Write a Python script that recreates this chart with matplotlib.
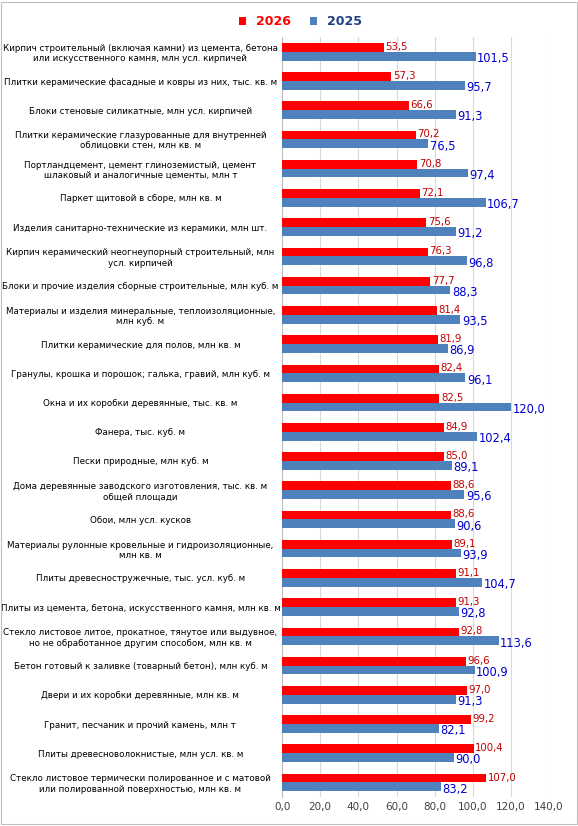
import matplotlib
matplotlib.use("Agg")
import matplotlib.pyplot as plt
import numpy as np

categories = [
"Кирпич строительный (включая камни) из цемента, бетона\nили искусственного камня, млн усл. кирпичей",
"Плитки керамические фасадные и ковры из них, тыс. кв. м",
"Блоки стеновые силикатные, млн усл. кирпичей",
"Плитки керамические глазурованные для внутренней\nоблицовки стен, млн кв. м",
"Портландцемент, цемент глиноземистый, цемент\nшлаковый и аналогичные цементы, млн т",
"Паркет щитовой в сборе, млн кв. м",
"Изделия санитарно-технические из керамики, млн шт.",
"Кирпич керамический неогнеупорный строительный, млн\nусл. кирпичей",
"Блоки и прочие изделия сборные строительные, млн куб. м",
"Материалы и изделия минеральные, теплоизоляционные,\nмлн куб. м",
"Плитки керамические для полов, млн кв. м",
"Гранулы, крошка и порошок; галька, гравий, млн куб. м",
"Окна и их коробки деревянные, тыс. кв. м",
"Фанера, тыс. куб. м",
"Пески природные, млн куб. м",
"Дома деревянные заводского изготовления, тыс. кв. м\nобщей площади",
"Обои, млн усл. кусков",
"Материалы рулонные кровельные и гидроизоляционные,\nмлн кв. м",
"Плиты древесностружечные, тыс. усл. куб. м",
"Плиты из цемента, бетона, искусственного камня, млн кв. м",
"Стекло листовое литое, прокатное, тянутое или выдувное,\nно не обработанное другим способом, млн кв. м",
"Бетон готовый к заливке (товарный бетон), млн куб. м",
"Двери и их коробки деревянные, млн кв. м",
"Гранит, песчаник и прочий камень, млн т",
"Плиты древесноволокнистые, млн усл. кв. м",
"Стекло листовое термически полированное и с матовой\nили полированной поверхностью, млн кв. м",
]
v2026 = [53.5,57.3,66.6,70.2,70.8,72.1,75.6,76.3,77.7,81.4,81.9,82.4,82.5,84.9,85.0,88.6,88.6,89.1,91.1,91.3,92.8,96.6,97.0,99.2,100.4,107.0]
v2025 = [101.5,95.7,91.3,76.5,97.4,106.7,91.2,96.8,88.3,93.5,86.9,96.1,120.0,102.4,89.1,95.6,90.6,93.9,104.7,92.8,113.6,100.9,91.3,82.1,90.0,83.2]

red = "#FF0000"; blue = "#4F81BD"
fig = plt.figure(figsize=(5.78, 8.26), dpi=100)
ax = fig.add_axes([0.488, 0.035, 0.462, 0.92])
n = len(categories)
y = np.arange(n)
h = 0.3
ax.barh(y - h/2, v2026, height=h, color=red, label="2026", zorder=3)
ax.barh(y + h/2, v2025, height=h, color=blue, label="2025", zorder=3)
for i in range(n):
    ax.text(v2026[i] + 0.8, y[i] - h/2 - 0.02, f"{v2026[i]:.1f}".replace(".", ","), color="#C00000", fontsize=7.3, va="center")
    ax.text(v2025[i] + 0.8, y[i] + h/2 + 0.08, f"{v2025[i]:.1f}".replace(".", ","), color="#0000CC", fontsize=8.3, va="center")
ax.set_ylim(n - 0.5, -0.5)
ax.set_xlim(0, 140)
ax.set_xticks(np.arange(0, 141, 20))
ax.set_xticklabels([f"{t:.1f}".replace(".", ",") for t in np.arange(0, 141, 20)], fontsize=7.5, color="#404040")
ax.set_yticks(y)
ax.set_yticklabels(categories, fontsize=6.3, ha="center")
ax.tick_params(axis="y", length=0, pad=102)
ax.tick_params(axis="x", length=0)
ax.grid(axis="x", color="#D9D9D9", lw=0.8, zorder=0)
for s in ["top", "right", "bottom"]:
    ax.spines[s].set_visible(False)
ax.spines["left"].set_color("#BFBFBF")
leg = fig.legend(loc="upper center", bbox_to_anchor=(0.52, 0.995), ncol=2, frameon=False,
                 fontsize=9, handlelength=0.6, handleheight=0.6, columnspacing=1.5)
for t, c in zip(leg.get_texts(), [red, "#1F3F7F"]):
    t.set_color(c); t.set_fontweight("bold")
fig.patches.append(plt.Rectangle((0.002, 0.002), 0.996, 0.996, transform=fig.transFigure, fill=False, ec="#BFBFBF", lw=0.8))
fig.savefig("out.png", dpi=100)
